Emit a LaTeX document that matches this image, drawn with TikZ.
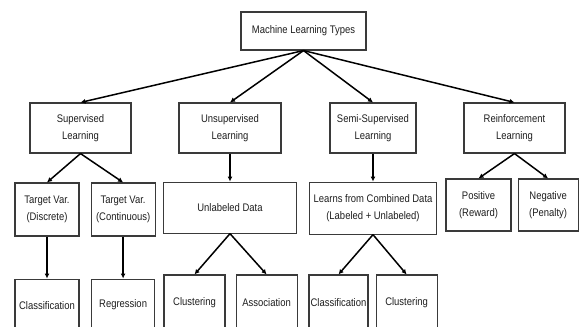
\documentclass[tikz,border=0pt]{standalone}
\usepackage{fontspec}
\setmainfont{Liberation Sans}[FakeStretch=0.86]
\usepackage{tikz}
\usetikzlibrary{positioning}
\usetikzlibrary{arrows.meta}
\definecolor{boxline}{HTML}{3A3A3A}
\definecolor{boxtext}{HTML}{1E1E1E}
\tikzset{
    mlbox/.style={
        draw=boxline,
        line width=1.1pt,
        text=boxtext,
        font=\fontsize{11}{16.5}\selectfont,
        align=center,
        inner sep=0pt
    },
    mlarrow/.style={
        line width=1.5pt,
        -{Latex[length=5pt,width=5pt]}
    }
}

\begin{document}
\begin{tikzpicture}[x=1pt,y=-1pt]
\useasboundingbox (0,0) rectangle (579,327);
\clip (0,0) rectangle (579,327);
% nodes
\node[mlbox,minimum width=125pt,minimum height=38pt] (root) at (303.5,31) {Machine Learning Types};

\node[mlbox,minimum width=101pt,minimum height=50pt] (sup) at (80.5,128) {Supervised\\Learning};
\node[mlbox,minimum width=102pt,minimum height=50pt] (uns) at (230,128) {Unsupervised\\Learning};
\node[mlbox,minimum width=86pt,minimum height=50pt] (semi) at (373,128) {Semi-Supervised\\Learning};
\node[mlbox,minimum width=101pt,minimum height=50pt] (rein) at (514.5,128) {Reinforcement\\Learning};

\node[mlbox,minimum width=64pt,minimum height=53pt] (disc) at (47,209.5) {Target Var.\\(Discrete)};
\node[mlbox,minimum width=64pt,minimum height=53pt] (cont) [right=11pt of disc] {Target Var.\\(Continuous)};
\node[mlbox,minimum width=133pt,minimum height=51pt] (unl) [below=28pt of uns] {Unlabeled Data};
\node[mlbox,minimum width=127pt,minimum height=52pt] (comb) [below=28pt of semi] {Learns from Combined Data\\(Labeled + Unlabeled)};
\node[mlbox,minimum width=65pt,minimum height=52pt] (pos) at (478.5,205) {Positive\\(Reward)};
\node[mlbox,minimum width=60pt,minimum height=52pt] (neg) [right=6pt of pos] {Negative\\(Penalty)};

\node[mlbox,minimum width=64pt,minimum height=52pt] (cls) [below=42pt of disc] {Classification};
\node[mlbox,minimum width=63pt,minimum height=52pt] (reg) [below=42pt of cont] {Regression};
\node[mlbox,minimum width=61pt,minimum height=55pt] (clu) at (194.5,302.5) {Clustering};
\node[mlbox,minimum width=61pt,minimum height=55pt] (ass) [right=10pt of clu] {Association};
\node[mlbox,minimum width=59pt,minimum height=55pt] (clstwo) at (338.5,302.5) {Classification};
\node[mlbox,minimum width=61pt,minimum height=55pt] (clutwo) [right=7pt of clstwo] {Clustering};

% arrows
\draw[mlarrow] (root.south) -- (sup.north);
\draw[mlarrow] (root.south) -- (uns.north);
\draw[mlarrow] (root.south) -- (semi.north);
\draw[mlarrow] (root.south) -- (rein.north);

\draw[mlarrow] (sup.south) -- (disc.north);
\draw[mlarrow] (sup.south) -- (cont.north);
\draw[mlarrow] (uns.south) -- (unl.north);
\draw[mlarrow] (semi.south) -- (comb.north);
\draw[mlarrow] (rein.south) -- (pos.north);
\draw[mlarrow] (rein.south) -- (neg.north);

\draw[mlarrow] (disc.south) -- (cls.north);
\draw[mlarrow] (cont.south) -- (reg.north);
\draw[mlarrow] (unl.south) -- (clu.north);
\draw[mlarrow] (unl.south) -- (ass.north);
\draw[mlarrow] (comb.south) -- (clstwo.north);
\draw[mlarrow] (comb.south) -- (clutwo.north);
\end{tikzpicture}
\end{document}
